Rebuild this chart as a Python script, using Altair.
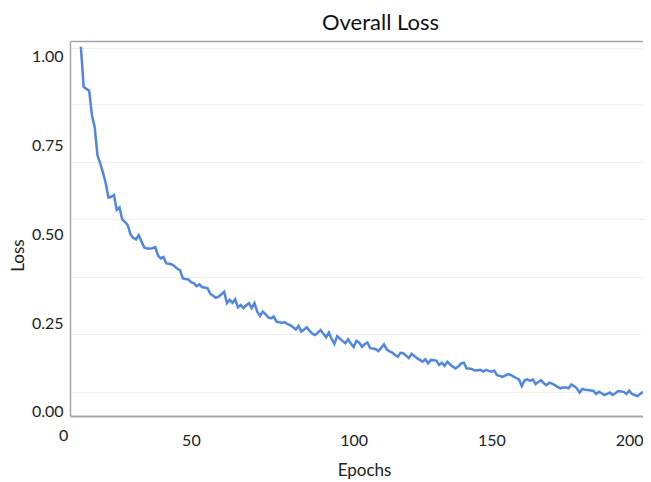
import altair as alt
import pandas as pd

loss = [
    1.029, 0.916, 0.910, 0.905, 0.836, 0.803, 0.724, 0.700, 0.675, 0.645,
    0.604, 0.606, 0.611, 0.569, 0.576, 0.542, 0.535, 0.526, 0.500, 0.490,
    0.486, 0.498, 0.480, 0.463, 0.460, 0.460, 0.461, 0.464, 0.440, 0.432,
    0.436, 0.418, 0.417, 0.415, 0.410, 0.403, 0.399, 0.376, 0.374, 0.373,
    0.365, 0.362, 0.354, 0.359, 0.351, 0.350, 0.348, 0.332, 0.327, 0.321,
    0.324, 0.331, 0.338, 0.306, 0.315, 0.307, 0.317, 0.294, 0.301, 0.292,
    0.300, 0.306, 0.292, 0.306, 0.282, 0.270, 0.282, 0.275, 0.266, 0.263,
    0.268, 0.254, 0.252, 0.251, 0.252, 0.247, 0.244, 0.238, 0.232, 0.242,
    0.226, 0.232, 0.238, 0.228, 0.220, 0.216, 0.223, 0.230, 0.220, 0.210,
    0.223, 0.205, 0.191, 0.213, 0.206, 0.199, 0.193, 0.204, 0.192, 0.182,
    0.200, 0.195, 0.183, 0.190, 0.195, 0.179, 0.178, 0.176, 0.171, 0.180,
    0.190, 0.175, 0.170, 0.167, 0.160, 0.155, 0.166, 0.165, 0.158, 0.151,
    0.163, 0.157, 0.151, 0.146, 0.141, 0.148, 0.136, 0.146, 0.145, 0.144,
    0.132, 0.138, 0.129, 0.141, 0.133, 0.127, 0.122, 0.128, 0.136, 0.138,
    0.122, 0.122, 0.120, 0.116, 0.117, 0.118, 0.113, 0.118, 0.115, 0.113,
    0.116, 0.103, 0.101, 0.098, 0.102, 0.106, 0.104, 0.099, 0.095, 0.091,
    0.072, 0.088, 0.091, 0.087, 0.091, 0.078, 0.084, 0.089, 0.080, 0.075,
    0.082, 0.079, 0.075, 0.070, 0.066, 0.068, 0.069, 0.066, 0.077, 0.072,
    0.066, 0.054, 0.064, 0.062, 0.061, 0.060, 0.059, 0.050, 0.056, 0.052,
    0.047, 0.050, 0.054, 0.047, 0.052, 0.058, 0.057, 0.056, 0.050, 0.059,
    0.050, 0.047, 0.044, 0.050, 0.056,
]
epochs = list(range(1, len(loss) + 1))

x_ticks = [0, 50, 100, 150, 200]
y_ticks = [0.0, 0.25, 0.5, 0.75, 1.0]
grid_values = [0.0564, 0.2189, 0.3805, 0.5429, 0.7036, 0.8672, 1.0262]

df = pd.DataFrame({"Epochs": epochs, "Loss": loss})

FONT = "Lato"
AXIS_GREY = "#a6a6a6"

xscale = alt.Scale(domain=[-2.95, 205.0], nice=False, zero=False)
yscale = alt.Scale(domain=[-0.0121, 1.0451], nice=False, zero=False)

base = alt.Chart(df)

frame = base.mark_line(opacity=0).encode(
    x=alt.X(
        "Epochs:Q",
        scale=xscale,
        axis=alt.Axis(orient="top", labels=False, ticks=False, grid=False,
                      title=None, domainColor=AXIS_GREY, domainWidth=1.5),
    ),
    y=alt.Y(
        "Loss:Q",
        scale=yscale,
        axis=alt.Axis(orient="right", values=grid_values, labels=False,
                      ticks=False, domain=False, grid=True,
                      gridColor="#eeeeee", gridWidth=1, title=None),
    ),
)

line = base.mark_line(color="#5086e3", strokeWidth=2.5, clip=True).encode(
    x=alt.X(
        "Epochs:Q",
        scale=xscale,
        axis=alt.Axis(
            values=x_ticks, title="Epochs", ticks=False, grid=False,
            domainColor=AXIS_GREY, domainWidth=2,
            labelFont=FONT, labelFontSize=16, labelColor="#222222",
            labelOffset=alt.expr("datum.value === 0 ? -15 : (datum.value === 50 ? -25 : 0)"),
            labelPadding=alt.expr("datum.value === 0 ? 11 : 16"),
            labelBaseline="top", labelFlush=False,
            titleFont=FONT, titleFontSize=17, titleFontWeight="normal",
            titleColor="#222222", titleX=294, titleY=54,
            titleBaseline="middle",
        ),
    ),
    y=alt.Y(
        "Loss:Q",
        scale=yscale,
        axis=alt.Axis(
            values=y_ticks, format=".2f", title="Loss", ticks=False, grid=False,
            domainColor=AXIS_GREY, domainWidth=1.5,
            labelFont=FONT, labelFontSize=16, labelColor="#222222",
            labelPadding=7, labelFlush=False,
            titleFont=FONT, titleFontSize=17, titleFontWeight="normal",
            titleColor="#222222", titleX=-52, titleY=214,
            titleBaseline="middle", titleAngle=-90,
        ),
    ),
)

chart = (
    alt.layer(frame, line)
    .resolve_axis(x="independent", y="independent")
    .properties(
        width=573,
        height=375,
        autosize=alt.AutoSizeParams(type="none"),
        padding={"left": 62, "top": 33, "right": 0, "bottom": 64},
        title=alt.TitleParams(
            "Overall Loss", font=FONT, fontSize=22, fontWeight="normal",
            color="#111111", anchor="middle", dx=24, offset=6,
        ),
    )
    .configure_view(stroke=None)
)

chart.save("out.html", embed_options={"renderer": "svg", "actions": False})
